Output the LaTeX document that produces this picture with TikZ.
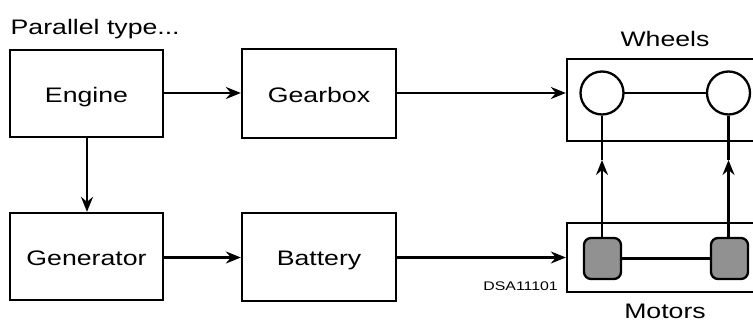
\documentclass[tikz,border=0pt]{standalone}
\usepackage{fontspec}
\setmainfont{Liberation Sans}[FakeStretch=1.27]
\usetikzlibrary{arrows.meta}
\definecolor{motorgray}{RGB}{145,145,145}
\tikzset{
  lw/.style={line width=2.3pt},
  blockbox/.style={draw, lw, inner sep=0pt, minimum width=153pt, minimum height=87pt,
    font=\fontsize{21}{24}\selectfont, text height=17.7pt, text depth=0pt},
  wheelc/.style={draw, lw, circle, fill=white, inner sep=0pt, minimum size=43pt},
  motorsq/.style={draw, lw, rounded corners=7pt, fill=motorgray, inner sep=0pt,
    minimum width=37pt, minimum height=41pt},
  lbl/.style={font=\fontsize{21}{24}\selectfont, inner sep=0pt},
  arr/.style={lw, -{Stealth[length=15pt, width=12pt, inset=5pt]}},
}
\begin{document}
\begin{tikzpicture}[x=1pt, y=-1pt]
\useasboundingbox (0,0) rectangle (753,323);
\clip (0,0) rectangle (753,323);
\fill[white] (0,0) rectangle (753,323);

\node[lbl, anchor=base west] (title) at (10.5,35) {Parallel type...};

\node[blockbox] (engine) at (86.5,93.5) {Engine};
\node[blockbox, minimum width=154pt, minimum height=89pt] (gearbox) at (319,93.5) {Gearbox};
\node[blockbox] (generator) at (86.5,256.5) {Generator};
\node[blockbox, minimum width=154pt, minimum height=88pt] (battery) at (319,257) {Battery};

% wheels and motors frames (extend beyond right edge)
\node[draw, lw, inner sep=0pt, minimum width=213pt, minimum height=82pt] (wheelbox) at (673.5,100) {};
\node[draw, lw, inner sep=0pt, minimum width=213pt, minimum height=69pt] (motorbox) at (673.5,257.5) {};

\node[lbl, anchor=base] (wheelslbl) at (665,47) {Wheels};
\node[lbl, anchor=base] (motorslbl) at (665,319) {Motors};
\node[font=\fontsize{12.5}{14}\selectfont, inner sep=0pt, anchor=base east] (dsa) at (558,290.7) {DSA11101};

\draw[lw] (602,93) -- (728.5,93);
\draw[lw] (602.5,258.5) -- (729.5,258.5);

\node[wheelc] (w1) at (602,93) {};
\node[wheelc] (w2) at (728.5,93) {};
\node[motorsq] (m1) at (602.5,258.5) {};
\node[motorsq] (m2) at (729.5,258.5) {};

\coordinate (a1) at (602,160);
\coordinate (a2) at (728.5,160);
\draw[arr] (m1.north -| a1) -- (a1);
\draw[lw] (a1) -- (w1.south);
\draw[arr] (m2.north -| a2) -- (a2);
\draw[lw] (a2) -- (w2.south);

\draw[arr] (engine.east |- 0,93) -- (gearbox.west |- 0,93);
\draw[arr] (gearbox.east |- 0,93) -- (wheelbox.west |- 0,93);
\draw[arr] (generator.east |- 0,257.5) -- (battery.west |- 0,257.5);
\draw[arr] (battery.east |- 0,257.5) -- (motorbox.west |- 0,257.5);
\draw[arr] (engine.south -| 87,0) -- (generator.north -| 87,0);
\end{tikzpicture}
\end{document}
